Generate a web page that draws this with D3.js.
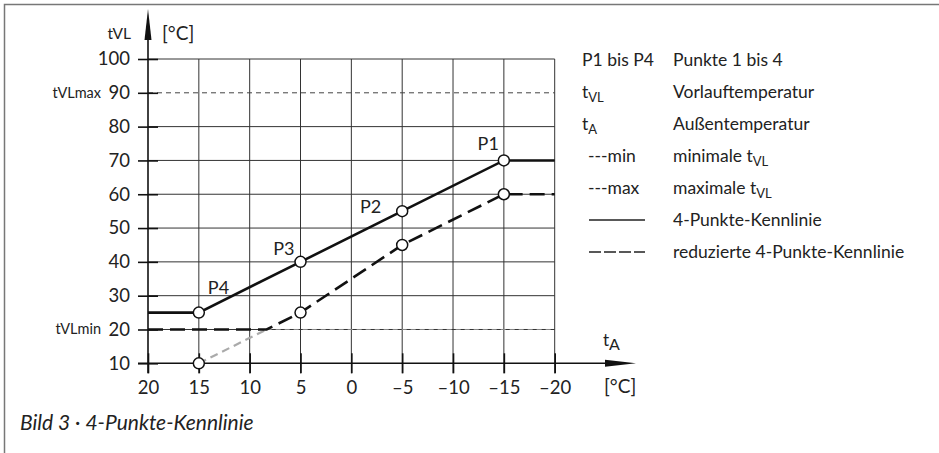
<!DOCTYPE html>
<html>
<head>
<meta charset="utf-8">
<script src="https://cdn.jsdelivr.net/npm/d3@7"></script>
<style>
  body { margin: 0; background: #fff; }
  svg { display: block; font-family: Lato, "Noto Sans", sans-serif; }
</style>
</head>
<body>
<svg id="chart"></svg>
<script>
var width = 939;
var height = 453;

// Außentemperatur ticks (x runs from +20 down to -20)
var xTicks = [20, 15, 10, 5, 0, -5, -10, -15, -20];
var yTicks = [10, 20, 30, 40, 50, 60, 70, 80, 90, 100];

// 4-Punkte-Kennlinie
var curveTA = [20, 15, 5, -5, -15, -20];
var curveVL = [25, 25, 40, 55, 70, 70];
// reduzierte Kennlinie (clipped at tVLmin)
var reducedTA = [20, 8.33, 5, -5, -15, -20];
var reducedVL = [20, 20, 25, 45, 60, 60];
// hidden part below tVLmin
var hiddenTA = [15, 8.33];
var hiddenVL = [10, 20];

var pointNames = ["P1", "P2", "P3", "P4"];
var pointTA = [-15, -5, 5, 15];
var pointVL = [70, 55, 40, 25];
var redPointTA = [15, 5, -5, -15];
var redPointVL = [10, 25, 45, 60];

var tVLmin = 20;
var tVLmax = 90;

var legendKeys = ["P1 bis P4", "tVL", "tA", "---min", "---max", "line", "dash"];
var legendTexts = ["Punkte 1 bis 4", "Vorlauftemperatur", "Außentemperatur", "minimale tVL", "maximale tVL", "4-Punkte-Kennlinie", "reduzierte 4-Punkte-Kennlinie"];

var svg = d3.select("#chart").attr("width", width).attr("height", height);

var x = d3.scaleLinear().domain([20, -20]).range([148, 554.7]);
var y = d3.scaleLinear().domain([10, 100]).range([363.3, 59]);

// frame
svg.append("path").attr("d", "M4.5,453 V4.5 H939")
    .attr("fill", "none").attr("stroke", "#777").attr("stroke-width", 1.5);

// grid
var grid = svg.append("g");
grid.selectAll(".vg").data(xTicks.slice(1)).enter().append("line")
    .attr("x1", d => x(d)).attr("x2", d => x(d))
    .attr("y1", y(100)).attr("y2", y(10) + 10)
    .attr("stroke", "#333").attr("stroke-width", 1);
grid.selectAll(".hg").data(yTicks.filter(d => d != 10 && d != tVLmax)).enter().append("line")
    .attr("x1", x(20)).attr("x2", x(-20))
    .attr("y1", d => y(d)).attr("y2", d => y(d))
    .attr("stroke", "#333").attr("stroke-width", 1);

// tVLmax / tVLmin lines
svg.append("line").attr("x1", x(20)).attr("x2", x(-20))
    .attr("y1", y(tVLmax)).attr("y2", y(tVLmax))
    .attr("stroke", "#444").attr("stroke-width", 1).attr("stroke-dasharray", "5,4");
svg.append("line").attr("x1", x(hiddenTA[1])).attr("x2", x(-20))
    .attr("y1", y(tVLmin)).attr("y2", y(tVLmin))
    .attr("stroke", "#888").attr("stroke-width", 1.2).attr("stroke-dasharray", "5,4");

// axes (labels + ticks via d3 axes)
var yAxis = svg.append("g").attr("transform", "translate(" + x(20) + ",0)")
    .call(d3.axisLeft(y).tickValues(yTicks).tickSize(10).tickPadding(8).tickSizeOuter(0));
yAxis.select(".domain").remove();
yAxis.selectAll(".tick line").attr("x2", 10).attr("x1", -10).attr("stroke", "#111").attr("stroke-width", 1.6);
yAxis.selectAll(".tick text").attr("font-size", 18.5).attr("fill", "#222").attr("font-family", "Lato, sans-serif");

var xAxis = svg.append("g").attr("transform", "translate(0," + y(10) + ")")
    .call(d3.axisBottom(x).tickValues(xTicks).tickSize(10).tickPadding(8).tickSizeOuter(0)
        .tickFormat(d => d < 0 ? "\u2013" + Math.abs(d) : d));
xAxis.select(".domain").remove();
xAxis.selectAll(".tick line").attr("y1", -10).attr("y2", 10).attr("stroke", "#111").attr("stroke-width", 1.6);
xAxis.selectAll(".tick text").attr("font-size", 18.5).attr("fill", "#222").attr("font-family", "Lato, sans-serif");

// axis lines with arrows
svg.append("line").attr("x1", x(20)).attr("x2", x(20)).attr("y1", y(10) + 10).attr("y2", 30)
    .attr("stroke", "#111").attr("stroke-width", 1.6);
svg.append("path").attr("d", "M" + x(20) + ",9 L" + (x(20) - 3.5) + ",40 L" + (x(20) + 3.5) + ",40 Z").attr("fill", "#111");
svg.append("line").attr("x1", x(20) - 10).attr("x2", 615).attr("y1", y(10)).attr("y2", y(10))
    .attr("stroke", "#111").attr("stroke-width", 1.6);
svg.append("path").attr("d", "M636," + y(10) + " L605," + (y(10) - 3.5) + " L605," + (y(10) + 3.5) + " Z").attr("fill", "#111");

// axis titles
svg.append("text").attr("x", 131).attr("y", 39).attr("text-anchor", "end").attr("font-size", 15.5).attr("fill", "#222").text("tVL");
svg.append("text").attr("x", 162).attr("y", 40).attr("font-size", 19).attr("fill", "#222").text("[°C]");
svg.append("text").attr("x", 101).attr("y", y(tVLmax) + 5).attr("text-anchor", "end").attr("font-size", 14.5).attr("fill", "#222").text("tVLmax");
svg.append("text").attr("x", 101).attr("y", y(tVLmin) + 5).attr("text-anchor", "end").attr("font-size", 14.5).attr("fill", "#222").text("tVLmin");
var tA = svg.append("text").attr("x", 603).attr("y", 346).attr("font-size", 17).attr("fill", "#222");
tA.append("tspan").text("t");
tA.append("tspan").attr("dy", 4).attr("font-size", 16).text("A");
svg.append("text").attr("x", 604).attr("y", 393).attr("font-size", 19).attr("fill", "#222").text("[°C]");

// curves
var line = d3.line().x(d => x(d[0])).y(d => y(d[1]));
svg.append("path").datum(d3.zip(hiddenTA, hiddenVL)).attr("d", line)
    .attr("fill", "none").attr("stroke", "#aaa").attr("stroke-width", 2.2).attr("stroke-dasharray", "8,5");
svg.append("path").datum(d3.zip(reducedTA, reducedVL)).attr("d", line)
    .attr("fill", "none").attr("stroke", "#111").attr("stroke-width", 2.6).attr("stroke-dasharray", "15,7");
svg.append("path").datum(d3.zip(curveTA, curveVL)).attr("d", line)
    .attr("fill", "none").attr("stroke", "#111").attr("stroke-width", 2.6);

// points
var allPts = d3.zip(pointTA, pointVL).concat(d3.zip(redPointTA, redPointVL));
svg.selectAll(".pt").data(allPts).enter().append("circle")
    .attr("cx", d => x(d[0])).attr("cy", d => y(d[1])).attr("r", 5.5)
    .attr("fill", "#fff").attr("stroke", "#111").attr("stroke-width", 1.5);

// label placement relative to each point: [dx, dy, anchor]
var labelOffsets = [[-5, -10, "end"], [-21, 2, "end"], [-6, -7, "end"], [9, -19, "start"]];
svg.selectAll(".plabel").data(pointNames).enter().append("text")
    .attr("x", (d, i) => x(pointTA[i]) + labelOffsets[i][0])
    .attr("y", (d, i) => y(pointVL[i]) + labelOffsets[i][1])
    .attr("text-anchor", (d, i) => labelOffsets[i][2])
    .attr("font-size", 18).attr("fill", "#222")
    .text(d => d);

// legend
var legend = svg.append("g");
var rowY = d3.range(legendKeys.length).map(i => 66 + i * 32);
legendKeys.forEach(function(k, i) {
    var yy = rowY[i];
    if (k == "line" || k == "dash") {
        legend.append("line").attr("x1", 589).attr("x2", 645).attr("y1", yy - 6).attr("y2", yy - 6)
            .attr("stroke", "#222").attr("stroke-width", 1.3)
            .attr("stroke-dasharray", k == "dash" ? "12,3" : null);
    } else {
        var t = legend.append("text").attr("x", k.indexOf("---") == 0 ? 588 : 582).attr("y", yy)
            .attr("font-size", 17.5).attr("fill", "#222");
        if (k == "tVL" || k == "tA") {
            t.append("tspan").text("t");
            t.append("tspan").attr("dy", 4).attr("font-size", 13).text(k.slice(1));
        } else {
            t.text(k);
        }
    }
    var tt = legend.append("text").attr("x", 673).attr("y", yy).attr("font-size", 17.5).attr("fill", "#222");
    var txt = legendTexts[i];
    if (txt.endsWith(" tVL")) {
        tt.append("tspan").text(txt.slice(0, -2));
        tt.append("tspan").attr("dy", 4).attr("font-size", 13).text("VL");
    } else {
        tt.text(txt);
    }
});

// caption
svg.append("text").attr("x", 20).attr("y", 430).attr("font-size", 21).attr("font-style", "italic")
    .attr("fill", "#222").text("Bild 3 · 4-Punkte-Kennlinie");
</script>
</body>
</html>
